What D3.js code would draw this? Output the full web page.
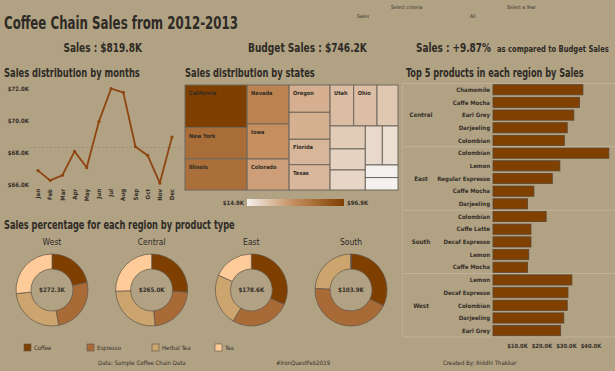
<!DOCTYPE html>
<html>
<head>
<meta charset="utf-8">
<script src="https://cdn.jsdelivr.net/npm/d3@7"></script>
<style>
body { margin: 0; background: #b1a284; }
svg { display: block; font-family: "DejaVu Sans Condensed", "DejaVu Sans", sans-serif; }
</style>
</head>
<body>
<div id="chart"></div>
<script>
var width = 615, height = 371;
var ink = "#2e2a25", soft = "#352f28";

// ---- data ----
var months = ["Jan", "Feb", "Mar", "Apr", "May", "Jun", "Jul", "Aug", "Sep", "Oct", "Nov", "Dec"];
var monthSales = [66.90, 66.29, 66.61, 68.10, 67.09, 69.97, 72.02, 71.79, 68.39, 67.85, 66.13, 69.00];
var monthTicks = [66, 68, 70, 72];

var states = ["California", "New York", "Illinois", "Nevada", "Iowa", "Colorado", "Oregon", "Washington",
    "Florida", "Texas", "Utah", "Ohio", "Massachusetts", "Wisconsin", "Missouri", "Oklahoma",
    "Louisiana", "Connecticut", "New Mexico", "New Hampshire"];
var stateSales = [96.9, 71.5, 70.7, 60.0, 53.8, 47.7, 41.0, 40.5, 38.2, 38.0, 35.5, 35.0, 31.5, 29.7, 27.2, 25.9, 24.3, 22.4, 15.1, 14.9];
var labelledStates = ["California", "New York", "Illinois", "Nevada", "Iowa", "Colorado", "Oregon", "Florida", "Texas", "Utah", "Ohio"];

var barRegions = ["Central", "East", "South", "West"];
var barProducts = [
    ["Chamomile", "Caffe Mocha", "Earl Grey", "Darjeeling", "Colombian"],
    ["Colombian", "Lemon", "Regular Espresso", "Caffe Mocha", "Darjeeling"],
    ["Colombian", "Caffe Latte", "Decaf Espresso", "Lemon", "Caffe Mocha"],
    ["Lemon", "Decaf Espresso", "Colombian", "Darjeeling", "Earl Grey"]
];
var barSales = [
    [36.7, 35.3, 33.0, 30.3, 29.1],
    [47.3, 27.3, 24.2, 16.7, 14.1],
    [21.7, 15.5, 15.5, 14.6, 14.1],
    [32.2, 30.6, 30.3, 28.9, 27.6]
];
var barTicks = [10, 20, 30, 40];

var donutRegions = ["West", "Central", "East", "South"];
var productTypes = ["Coffee", "Espresso", "Herbal Tea", "Tea"];
var typeColors = ["#7f3f00", "#a86b38", "#cba46e", "#ffcc99"];
var westSales = [58.8, 69.2, 71.9, 72.4];
var centralSales = [68.9, 59.6, 68.9, 67.6];
var eastSales = [56.4, 48.0, 41.6, 32.6];
var southSales = [33.4, 45.3, 25.2, 0];

var totalSales = 819.8, budgetSales = 746.2, vsBudget = 9.87;

var fmtK = function (v) { return "$" + d3.format(".1f")(v) + "K"; };

var svg = d3.select("#chart").append("svg")
    .attr("width", width)
    .attr("height", height)
    .attr("viewBox", [0, 0, width, height]);

svg.append("rect").attr("width", width).attr("height", height).attr("fill", "#b1a284");

// draw a bold heading squeezed horizontally to the width it has in the dashboard's narrow font
function heading(txt, x, y, len, size) {
    var t = svg.append("text")
        .attr("font-size", size).attr("font-weight", 700).attr("fill", ink)
        .text(txt);
    var w = t.node().getComputedTextLength();
    t.attr("transform", "translate(" + x + "," + y + ") scale(" + (len / w) + ",1)");
    return t;
}

// ---- header ----
heading("Coffee Chain Sales from 2012-2013", 4, 29, 234, 18);

var filt = [["Select criteria", 391, 9], ["Sales", 357, 18], ["Select a Year", 507, 9], ["All", 470, 18]];
svg.selectAll(".filt").data(filt).enter().append("text")
    .attr("x", function (d) { return d[1]; }).attr("y", function (d) { return d[2]; })
    .attr("font-size", 5).attr("fill", ink).text(function (d) { return d[0]; });

heading("Sales : " + fmtK(totalSales), 63.5, 52, 78.5, 13);
heading("Budget Sales : " + fmtK(budgetSales), 248, 52, 119, 13);
heading("Sales : +" + vsBudget + "%", 416, 52, 75, 13);
heading("as compared to Budget Sales", 497, 52, 112, 9.5);

heading("Sales distribution by months", 4, 77, 136, 12);
heading("Sales distribution by states", 185, 77, 130, 12);
heading("Top 5 products in each region by Sales", 406, 77, 178, 12);
heading("Sales percentage for each region by product type", 4, 229, 231, 12);

// ---- line chart ----
var lx = d3.scalePoint().domain(months).range([38, 172]);
var ly = d3.scaleLinear().domain([66, 72]).range([185, 89]);
var lg = svg.append("g");

lg.append("line")
    .attr("x1", 30).attr("x2", 180)
    .attr("y1", ly(d3.mean(monthSales))).attr("y2", ly(d3.mean(monthSales)))
    .attr("stroke", "#9a8d73").attr("stroke-dasharray", "2,2").attr("stroke-width", 0.8);

lg.selectAll(".ytick").data(monthTicks).enter().append("text")
    .attr("x", 29).attr("y", function (d) { return ly(d) + 2.2; })
    .attr("text-anchor", "end").attr("font-size", 6).attr("font-weight", 700).attr("fill", soft)
    .text(fmtK);

lg.selectAll(".mlab").data(months).enter().append("text")
    .attr("transform", function (d) { return "translate(" + (lx(d) + 2.2) + ",189) rotate(-90)"; })
    .attr("text-anchor", "end").attr("font-size", 6).attr("font-weight", 700).attr("fill", soft)
    .text(function (d) { return d; });

var line = d3.line()
    .x(function (d, i) { return lx(months[i]); })
    .y(function (d) { return ly(d); });

lg.append("path").datum(monthSales)
    .attr("d", line).attr("fill", "none")
    .attr("stroke", "#8e4510").attr("stroke-width", 1.8);

lg.selectAll(".pt").data(monthSales).enter().append("circle")
    .attr("cx", function (d, i) { return lx(months[i]); })
    .attr("cy", function (d) { return ly(d); })
    .attr("r", 1.6).attr("fill", "#8e4510");

// ---- treemap ----
var tmX = 185, tmY = 85, tmW = 213, tmH = 105;
var color = d3.scaleLinear().domain([14.9, 55, 96.9]).range(["#f4f1ee", "#c48c5c", "#7f3f00"]);

var root = d3.hierarchy({ children: states.map(function (s, i) { return { name: s, value: stateSales[i] }; }) })
    .sum(function (d) { return d.value; })
    .sort(function (a, b) { return b.value - a.value; });

d3.treemap().size([tmW, tmH]).tile(d3.treemapSquarify)(root);

var tg = svg.append("g").attr("transform", "translate(" + tmX + "," + tmY + ")");
var cell = tg.selectAll(".cell").data(root.leaves()).enter().append("g");
cell.append("rect")
    .attr("x", function (d) { return d.x0; }).attr("y", function (d) { return d.y0; })
    .attr("width", function (d) { return d.x1 - d.x0; })
    .attr("height", function (d) { return d.y1 - d.y0; })
    .attr("fill", function (d) { return color(d.data.value); })
    .attr("stroke", "#6f685f").attr("stroke-width", 1);
cell.filter(function (d) { return labelledStates.indexOf(d.data.name) >= 0; })
    .append("text")
    .attr("x", function (d) { return d.x0 + 4; }).attr("y", function (d) { return d.y0 + 10; })
    .attr("font-size", 5.6).attr("font-weight", 700).attr("fill", "#2f2a24")
    .text(function (d) { return d.data.name; });

var grad = svg.append("defs").append("linearGradient").attr("id", "tmgrad");
d3.range(0, 1.01, 0.1).forEach(function (t) {
    grad.append("stop").attr("offset", t)
        .attr("stop-color", color(14.9 + t * (96.9 - 14.9)));
});
svg.append("rect").attr("x", 247).attr("y", 199).attr("width", 97).attr("height", 7)
    .attr("fill", "url(#tmgrad)");
svg.append("text").attr("x", 244).attr("y", 205).attr("text-anchor", "end")
    .attr("font-size", 6).attr("font-weight", 700).attr("fill", soft).text(fmtK(d3.min(stateSales)));
svg.append("text").attr("x", 347).attr("y", 205)
    .attr("font-size", 6).attr("font-weight", 700).attr("fill", soft).text(fmtK(d3.max(stateSales)));

// ---- top 5 bars ----
var rows = [];
barRegions.forEach(function (r, i) {
    barProducts[i].forEach(function (p, j) {
        rows.push({ region: r, product: p, value: barSales[i][j], key: r + "|" + p });
    });
});
var by = d3.scaleBand().domain(rows.map(function (d) { return d.key; }))
    .range([83.4, 337]).paddingInner(0.2).paddingOuter(0.1);
var bx = d3.scaleLinear().domain([0, 50]).range([493, 615.5]);
var bgr = svg.append("g");
var step = (337 - 83.4) / rows.length;

barRegions.forEach(function (r, i) {
    var yTop = 83.4 + i * 5 * step;
    bgr.append("line").attr("x1", 403).attr("x2", 615).attr("y1", yTop).attr("y2", yTop)
        .attr("stroke", "#c4b89f").attr("stroke-width", 0.8);
    bgr.append("text").attr("x", 421).attr("y", yTop + 2.5 * step + 2.2)
        .attr("text-anchor", "middle").attr("font-size", 6.2).attr("font-weight", 700).attr("fill", soft)
        .text(r);
});
bgr.append("line").attr("x1", 403).attr("x2", 615).attr("y1", 337).attr("y2", 337)
    .attr("stroke", "#c4b89f").attr("stroke-width", 0.8);
bgr.append("line").attr("x1", 402.5).attr("x2", 402.5).attr("y1", 83.4).attr("y2", 337)
    .attr("stroke", "#c4b89f").attr("stroke-width", 0.6);

bgr.selectAll(".bar").data(rows).enter().append("rect")
    .attr("x", bx(0)).attr("y", function (d) { return by(d.key); })
    .attr("width", function (d) { return bx(d.value) - bx(0); })
    .attr("height", by.bandwidth())
    .attr("fill", "#804000").attr("stroke", "#5b4530").attr("stroke-width", 0.8);

bgr.selectAll(".plab").data(rows).enter().append("text")
    .attr("x", 490).attr("y", function (d) { return by(d.key) + by.bandwidth() / 2 + 2.2; })
    .attr("text-anchor", "end").attr("font-size", 6).attr("font-weight", 700).attr("fill", soft)
    .text(function (d) { return d.product; });

bgr.selectAll(".xtick").data(barTicks).enter().append("text")
    .attr("x", function (d) { return bx(d); }).attr("y", 348)
    .attr("text-anchor", "middle").attr("font-size", 5.8).attr("font-weight", 700).attr("fill", soft)
    .text(fmtK);

// ---- donuts ----
var donutSales = [westSales, centralSales, eastSales, southSales];
var dx = d3.scalePoint().domain(donutRegions).range([52, 351]);
var pie = d3.pie().sort(null).value(function (d) { return d; });
var arc = d3.arc().innerRadius(21).outerRadius(36);

donutRegions.forEach(function (r, i) {
    var g = svg.append("g").attr("transform", "translate(" + dx(r) + ",290)");
    g.selectAll("path").data(pie(donutSales[i])).enter().append("path")
        .attr("d", arc)
        .attr("fill", function (d, j) { return typeColors[j]; })
        .attr("stroke", "#5e554b").attr("stroke-width", 0.7);
    g.append("text").attr("y", 2.2).attr("text-anchor", "middle")
        .attr("font-size", 6.2).attr("font-weight", 700).attr("fill", soft)
        .text(fmtK(d3.sum(donutSales[i])));
    svg.append("text").attr("x", dx(r)).attr("y", 245).attr("text-anchor", "middle")
        .attr("font-size", 8.5).attr("fill", ink).text(r);
});

// legend
var lgx = [24, 87, 152, 215];
var leg = svg.selectAll(".leg").data(productTypes).enter().append("g")
    .attr("transform", function (d, i) { return "translate(" + lgx[i] + ",344)"; });
leg.append("rect").attr("width", 7).attr("height", 7)
    .attr("fill", function (d, i) { return typeColors[i]; })
    .attr("stroke", "#5e554b").attr("stroke-width", 0.6);
leg.append("text").attr("x", 10).attr("y", 6)
    .attr("font-size", 6).attr("fill", soft).text(function (d) { return d; });

// footer
var foot = [["Data: Sample Coffee Chain Data", 98], ["#IronQuestFeb2019", 276], ["Created By: Riddhi Thakkar", 443]];
svg.selectAll(".foot").data(foot).enter().append("text")
    .attr("x", function (d) { return d[1]; }).attr("y", 365)
    .attr("font-size", 6).attr("fill", soft)
    .text(function (d) { return d[0]; });
</script>
</body>
</html>
